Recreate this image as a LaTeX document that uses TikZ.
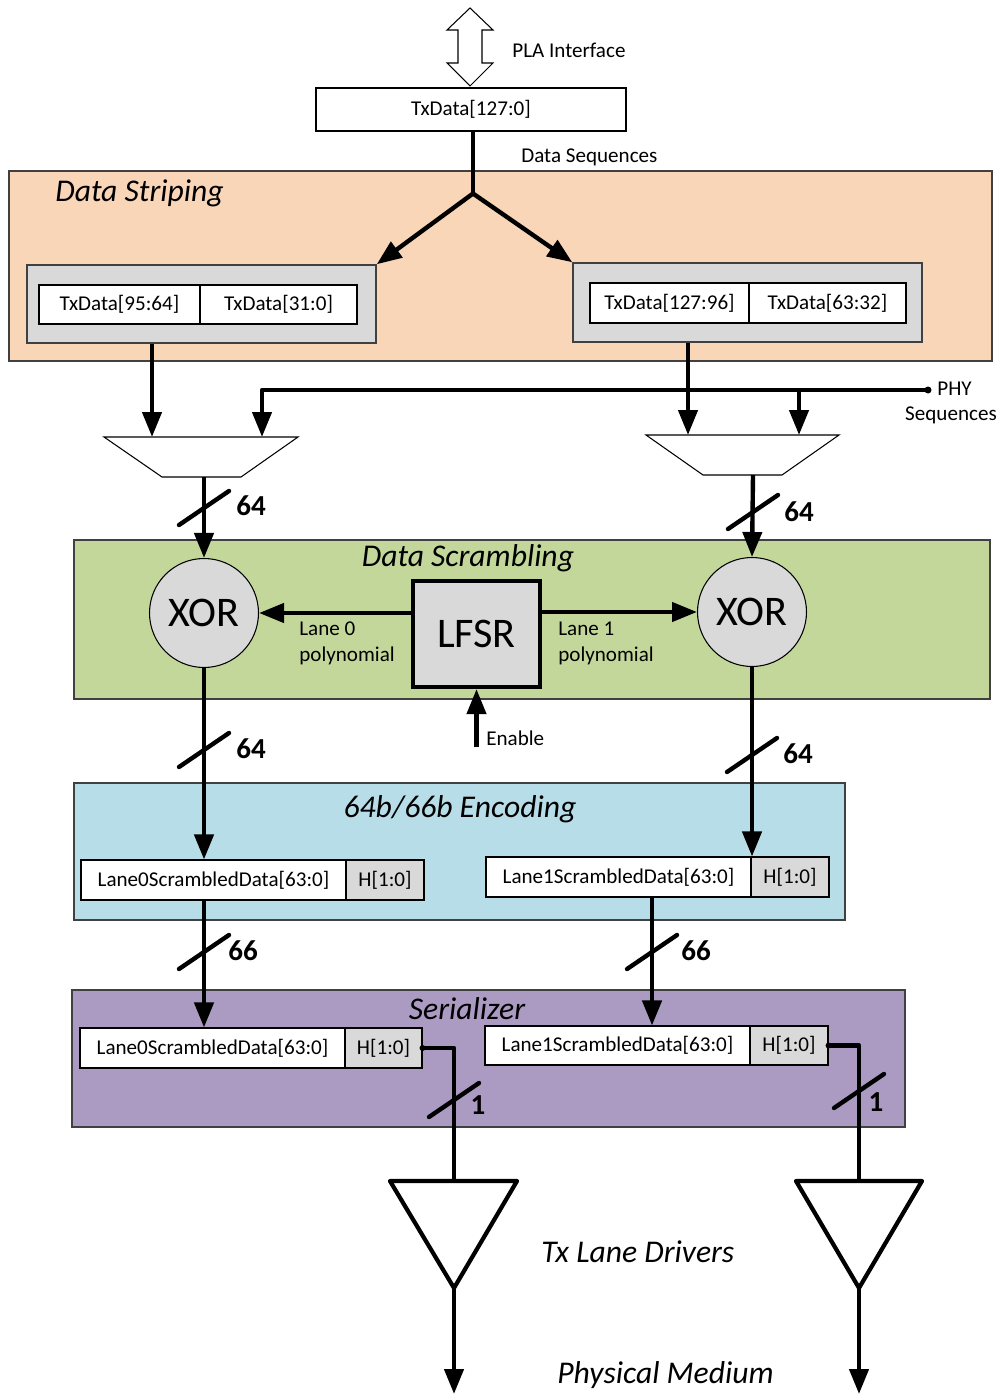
\documentclass[tikz,border=0pt]{standalone}
\usepackage{fontspec}
\setmainfont{Carlito}
\usetikzlibrary{arrows.meta,calc,fit}

\definecolor{stripefill}{HTML}{FAD6B9}
\definecolor{scramblefill}{HTML}{C4D79B}
\definecolor{encodefill}{HTML}{B7DDE8}
\definecolor{serialfill}{HTML}{AB9BC2}
\definecolor{cellgray}{HTML}{D9D9D9}
\definecolor{framegray}{HTML}{404040}

\newcommand{\normtext}{\fontsize{12}{14.7}\selectfont}
\newcommand{\titletext}{\fontsize{18}{22}\selectfont\itshape}
\newcommand{\widthtext}{\fontsize{16.5}{20}\selectfont\bfseries}
\newcommand{\gatetext}{\fontsize{24}{28}\selectfont}

\tikzset{
  stage/.style={draw=framegray, line width=1pt, inner sep=0pt},
  holder/.style={draw=framegray, line width=0.8pt, fill=cellgray, inner sep=0pt},
  cell/.style={draw=black, line width=0.6pt, fill=white, inner sep=0pt},
  hcell/.style={cell, fill=cellgray},
  content/.style={label={[font=\normtext, inner sep=0pt]center:#1}},
  lbl/.style={font=\normtext, inner sep=0pt},
  stagetitle/.style={font=\titletext, inner sep=0pt},
  buswidth/.style={font=\widthtext, inner sep=0pt},
  gate/.style={circle, draw=black, line width=0.6pt, fill=cellgray,
    minimum size=2.18cm, inner sep=0pt, font=\gatetext},
  bus/.style={line width=2.5pt, line join=round},
  flow/.style={bus, -{Triangle[length=0.5cm,width=0.38cm]}},
  slashmark/.style={line width=2.5pt, line cap=round},
  thinshape/.style={draw=black, line width=0.6pt, fill=white},
  driver/.style={draw=black, line width=2.4pt, line join=round},
}

% bus-width slash crossing a bus at a named coordinate
\newcommand{\busslash}[1]{\draw[slashmark] ($(#1)+(-25,17)$) -- ($(#1)+(25,-17)$);}

\begin{document}
\begin{tikzpicture}[x=0.02cm,y=-0.02cm]
\useasboundingbox (0,0) rectangle (1000,1395);

% ---------- interface ----------
\draw[thinshape] (470,8) -- (493,30) -- (482,30) -- (482,63) -- (493,63)
  -- (470,86) -- (447,63) -- (458,63) -- (458,30) -- (447,30) -- cycle;
\node[lbl, anchor=west] (pla) at (512,50) {PLA Interface};
\node[cell, content={TxData[127:0]}, fit={(316,88)(626,131)}] (txall) {};
\node[lbl, anchor=west] (dseq) at (521,157) {Data Sequences};

% ---------- data striping ----------
\node[stage, fill=stripefill, fit={(9,171)(992,361)}] (striping) {};
\node[stagetitle, anchor=west] (stripingT) at (55,193) {Data Striping};

\node[holder, fit={(27,265)(376,343)}] (lg) {};
\node[cell, content={TxData[95:64]}, fit={(39,285)(200,324)}] (lgA) {};
\node[cell, content={TxData[31:0]}, fit={(200,285)(357,324)}] (lgB) {};

\node[holder, fit={(573,263)(922,342)}] (rg) {};
\node[cell, content={TxData[127:96]}, fit={(590,283)(749,323)}] (rgA) {};
\node[cell, content={TxData[63:32]}, fit={(749,283)(906,323)}] (rgB) {};

\coordinate (fork) at ($(txall.south)+(2,62)$);
\draw[bus] ($(txall.south)+(2,0)$) -- (fork);
\draw[flow] (fork) -- (lg.north east);
\draw[flow] (fork) -- (rg.north west);

% ---------- multiplexers ----------
\draw[thinshape] (104,437) -- (298,437) -- (241,477) -- (162,477) -- cycle;
\coordinate (muxLa) at (152,437);
\coordinate (muxLb) at (262,437);
\coordinate (muxLo) at (204,477);
\draw[thinshape] (646,435) -- (839,435) -- (782,475) -- (703,475) -- cycle;
\coordinate (muxRa) at (688,435);
\coordinate (muxRb) at (799,435);
\coordinate (muxRo) at (753,475);

\draw[flow] (muxLa |- lg.south) -- (muxLa);
\draw[flow] (muxRa |- rg.south) -- (muxRa);

\coordinate (phy) at (928,390);
\fill (phy) circle (3.5);
\draw[flow] (phy) -| (muxLb);
\draw[flow] (muxRb |- phy) -- (muxRb);
\node[lbl, align=center] (phyT) at (951,403) {\hspace*{4pt}PHY\\Sequences};

% ---------- data scrambling ----------
\node[stage, fill=scramblefill, fit={(74,540)(990,699)}] (scramble) {};
\node[stagetitle] (scrambleT) at (468,558) {Data Scrambling};

\node[gate] (xorL) at (204,613) {XOR};
\node[gate] (xorR) at (752,612) {XOR};
\node[draw=black, line width=2.4pt, fill=cellgray, inner sep=0pt,
  label={[font=\gatetext, inner sep=0pt]center:LFSR},
  fit={(413,581)(540,687)}] (lfsr) {};

\coordinate (w1) at (muxLo |- 0,508);
\coordinate (w2) at (muxRo |- 0,512);
\draw[flow] (muxLo) -- (xorL.north);
\draw[flow] (muxRo) -- (xorR.north);
\busslash{w1}
\busslash{w2}
\node[buswidth] (w1T) at ($(w1)+(47,-2)$) {64};
\node[buswidth] (w2T) at ($(w2)+(46,0)$) {64};

\draw[flow] (lfsr.west |- xorL.east) -- (xorL.east);
\draw[flow] (lfsr.east |- xorR.west) -- (xorR.west);
\node[lbl, anchor=west, align=left] (poly0) at (299,643) {Lane 0\\polynomial};
\node[lbl, anchor=west, align=left] (poly1) at (558,643) {Lane 1\\polynomial};

\coordinate (enable) at (lfsr.south |- 0,747);
\draw[flow] (enable) -- (lfsr.south);
\node[lbl, anchor=west] (enableT) at (486,738) {Enable};

% ---------- 64b/66b encoding ----------
\node[stage, fill=encodefill, fit={(74,783)(845,920)}] (encode) {};
\node[stagetitle] (encodeT) at (460,809) {64b/66b Encoding};

\node[cell, content={Lane0ScrambledData[63:0]}, fit={(81,860)(346,900)}] (e0d) {};
\node[hcell, content={H[1:0]}, fit={(346,860)(424,900)}] (e0h) {};
\node[cell, content={Lane1ScrambledData[63:0]}, fit={(486,857)(751,897)}] (e1d) {};
\node[hcell, content={H[1:0]}, fit={(751,857)(829,897)}] (e1h) {};

\coordinate (w3) at (xorL.south |- 0,750);
\coordinate (w4) at (xorR.south |- 0,755);
\draw[flow] (xorL.south) -- (xorL.south |- e0d.north);
\draw[flow] (xorR.south) -- (xorR.south |- e1d.north);
\busslash{w3}
\busslash{w4}
\node[buswidth] (w3T) at ($(w3)+(47,-1)$) {64};
\node[buswidth] (w4T) at ($(w4)+(46,-1)$) {64};

% ---------- serializer ----------
\node[stage, fill=serialfill, fit={(72,990)(905,1127)}] (serial) {};
\node[stagetitle] (serialT) at (467,1009) {Serializer};

\node[cell, content={Lane0ScrambledData[63:0]}, fit={(80,1028)(345,1068)}] (s0d) {};
\node[hcell, content={H[1:0]}, fit={(345,1028)(422,1068)}] (s0h) {};
\node[cell, content={Lane1ScrambledData[63:0]}, fit={(485,1026)(750,1065)}] (s1d) {};
\node[hcell, content={H[1:0]}, fit={(750,1026)(828,1065)}] (s1h) {};

\coordinate (t0) at (xorL.south |- e0d.south);
\coordinate (t1) at ($(e1d.south west)!0.626!(e1d.south east)$);
\draw[flow] (t0) -- (t0 |- s0d.north);
\draw[flow] (t1) -- (t1 |- s1d.north);
\coordinate (w5) at (t0 |- 0,952);
\coordinate (w6) at (t1 |- 0,952);
\busslash{w5}
\busslash{w6}
\node[buswidth] (w5T) at ($(w5)+(39,-1)$) {66};
\node[buswidth] (w6T) at ($(w6)+(44,-1)$) {66};

% ---------- lane drivers ----------
\coordinate (d0top) at (454,1181);
\coordinate (d0tip) at (454,1288);
\coordinate (d1top) at (859,1181);
\coordinate (d1tip) at (859,1288);
\draw[driver] (390,1181) -- (517,1181) -- (d0tip) -- cycle;
\draw[driver] (796,1181) -- (922,1181) -- (d1tip) -- cycle;

\fill (s0h.east) circle (3);
\fill (s1h.east) circle (3);
\draw[bus] (s0h.east) -| (d0top);
\draw[bus] (s1h.east) -| (d1top);
\coordinate (w7) at (d0top |- 0,1100);
\coordinate (w8) at (d1top |- 0,1091);
\busslash{w7}
\busslash{w8}
\node[buswidth] (w7T) at ($(w7)+(24,5)$) {1};
\node[buswidth] (w8T) at ($(w8)+(17,11)$) {1};

\draw[flow] (d0tip) -- (d0tip |- 0,1394);
\draw[flow] (d1tip) -- (d1tip |- 0,1394);

\node[stagetitle, anchor=west] (driversT) at (541,1252) {Tx Lane Drivers};
\node[stagetitle, anchor=west] (mediumT) at (557,1375) {Physical Medium};
\end{tikzpicture}
\end{document}
